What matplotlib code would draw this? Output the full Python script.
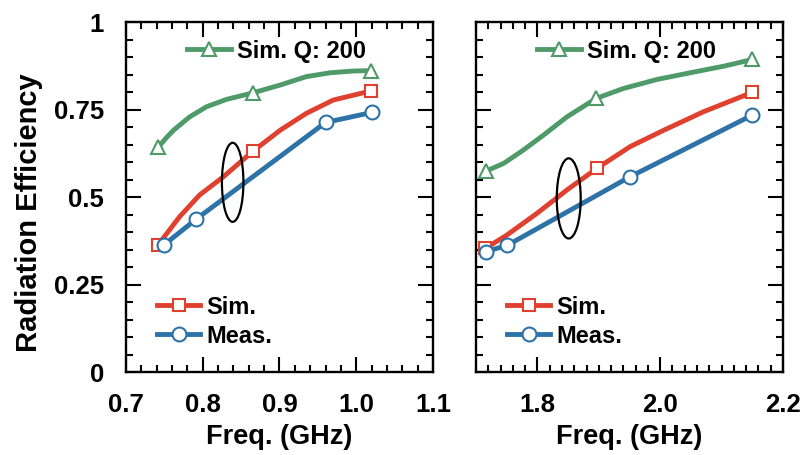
import matplotlib
matplotlib.use('Agg')
import matplotlib.pyplot as plt
from matplotlib.patches import Ellipse
from matplotlib.ticker import MultipleLocator, FormatStrFormatter

plt.rcParams['font.family'] = ['Liberation Sans', 'DejaVu Sans']
plt.rcParams['font.weight'] = 'bold'

# low band (0.7 - 1.1 GHz)
lo_q_x = [0.742, 0.752, 0.762, 0.783, 0.805, 0.831, 0.866, 0.901, 0.935, 0.966, 0.996, 1.019]
lo_q_y = [0.642, 0.668, 0.691, 0.729, 0.758, 0.779, 0.798, 0.820, 0.844, 0.855, 0.860, 0.861]
lo_sim_x = [0.742, 0.770, 0.796, 0.827, 0.866, 0.901, 0.935, 0.970, 1.019]
lo_sim_y = [0.364, 0.444, 0.506, 0.558, 0.632, 0.691, 0.739, 0.777, 0.803]
lo_meas_x = [0.750, 0.791, 0.960, 1.021]
lo_meas_y = [0.364, 0.436, 0.713, 0.742]

# high band (1.7 - 2.2 GHz)
hi_q_x = [1.716, 1.745, 1.777, 1.810, 1.848, 1.896, 1.940, 1.995, 2.049, 2.104, 2.150]
hi_q_y = [0.574, 0.596, 0.634, 0.677, 0.729, 0.782, 0.810, 0.836, 0.855, 0.874, 0.893]
hi_sim_x = [1.715, 1.750, 1.799, 1.848, 1.897, 1.951, 2.006, 2.071, 2.150]
hi_sim_y = [0.353, 0.391, 0.453, 0.520, 0.582, 0.644, 0.691, 0.744, 0.799]
hi_meas_x = [1.716, 1.751, 1.951, 2.150]
hi_meas_y = [0.344, 0.362, 0.558, 0.734]

lo_q_marks = [0, 6, 11]
hi_q_marks = [0, 5, 10]
sim_marks = [0, 4, 8]

GREEN = '#4E9A69'
RED = '#E0402E'
BLUE = '#2E73A8'

fig = plt.figure(figsize=(8.03, 4.55), dpi=100)
ax1 = fig.add_axes([0.1569, 0.1824, 0.3823, 0.7692])
ax2 = fig.add_axes([0.5928, 0.1824, 0.3823, 0.7692])


def draw(ax, qx, qy, qm, sx, sy, mx, my):
    lw = 3.5
    hq, = ax.plot(qx, qy, color=GREEN, lw=lw, marker='^', ms=10, mew=1.5,
                  mfc='white', mec=GREEN, markevery=qm)
    hs, = ax.plot(sx, sy, color=RED, lw=lw, marker='s', ms=9, mew=1.5,
                  mfc='white', mec=RED, markevery=sim_marks)
    hm, = ax.plot(mx, my, color=BLUE, lw=lw, marker='o', ms=10, mew=1.5,
                  mfc='white', mec=BLUE)
    leg1 = ax.legend([hq], ['Sim. Q: 200'], loc='center left',
                     bbox_to_anchor=(0.2, 0.917), frameon=False, borderpad=0,
                     borderaxespad=0, handlelength=1.85, handletextpad=0.25,
                     prop={'size': 17, 'weight': 'bold'})
    ax.add_artist(leg1)
    ax.legend([hs, hm], ['Sim.', 'Meas.'], loc='center left',
              bbox_to_anchor=(0.1, 0.144), frameon=False, borderpad=0,
              borderaxespad=0, handlelength=1.85, handletextpad=0.25,
              labelspacing=0.25, prop={'size': 17, 'weight': 'bold'})

    ax.set_ylim(0, 1)
    ax.yaxis.set_major_locator(MultipleLocator(0.25))
    ax.yaxis.set_minor_locator(MultipleLocator(0.05))
    ax.xaxis.set_minor_locator(MultipleLocator(0.02))
    ax.tick_params(which='both', direction='in', top=True, right=True,
                   width=1.5, colors='black')
    ax.tick_params(which='major', length=10.5, labelsize=18.5)
    ax.tick_params(which='minor', length=5)
    ax.tick_params(axis='x', pad=15)
    ax.tick_params(axis='y', pad=16)
    for sp in ax.spines.values():
        sp.set_linewidth(1.7)
    ax.set_xlabel('Freq. (GHz)', fontsize=19.5, fontweight='bold', labelpad=5)


draw(ax1, lo_q_x, lo_q_y, lo_q_marks, lo_sim_x, lo_sim_y, lo_meas_x, lo_meas_y)
draw(ax2, hi_q_x, hi_q_y, hi_q_marks, hi_sim_x, hi_sim_y, hi_meas_x, hi_meas_y)

ax1.set_xlim(0.7, 1.1)
ax1.xaxis.set_major_locator(MultipleLocator(0.1))
ax1.xaxis.set_major_formatter(FormatStrFormatter('%.1f'))
ax1.set_yticks([0, 0.25, 0.5, 0.75, 1])
ax1.set_yticklabels(['0', '0.25', '0.5', '0.75', '1'])
ax1.set_ylabel('Radiation Efficiency', fontsize=21, fontweight='bold')
ax1.yaxis.set_label_coords(-0.27, 0.454)

ax2.set_xlim(1.7, 2.2)
ax2.xaxis.set_major_locator(MultipleLocator(0.2))
ax2.xaxis.set_major_formatter(FormatStrFormatter('%.1f'))
ax2.tick_params(axis='y', labelleft=False)

# ellipses grouping sim/meas curves
ax1.add_patch(Ellipse((0.839, 0.542), 0.028, 0.226, fill=False, ec='black', lw=1.6, zorder=5))
ax2.add_patch(Ellipse((1.851, 0.496), 0.039, 0.229, fill=False, ec='black', lw=1.6, zorder=5))

fig.savefig('out.png', dpi=100)
